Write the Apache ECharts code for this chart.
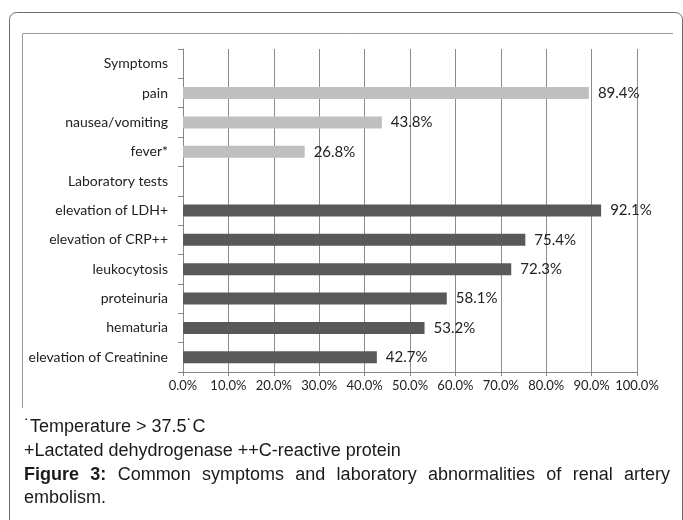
<!DOCTYPE html>
<html><head><meta charset="utf-8">
<script src="https://cdn.jsdelivr.net/npm/echarts@6/dist/echarts.min.js"></script>
<style>html,body{margin:0;padding:0;background:#fff}#c{width:683px;height:520px}</style>
</head><body><div id="c"></div>
<script>
// ---- data ----
const categories = ['Symptoms','pain','nausea/vomiting','fever*','Laboratory tests','elevation of LDH+','elevation of CRP++','leukocytosis','proteinuria','hematuria','elevation of Creatinine'];
const groups = ['header','symptom','symptom','symptom','header','lab','lab','lab','lab','lab','lab'];
const values = [null,89.4,43.8,26.8,null,92.1,75.4,72.3,58.1,53.2,42.7];
const xTickMin = 0, xTickMax = 100, xTickStep = 10;
const captionLine1 = '\u02D9Temperature > 37.5\u02D9C';
const captionLine2 = '+Lactated dehydrogenase ++C-reactive protein';
const captionBold = 'Figure 3:';
const captionLine3 = 'Common symptoms and laboratory abnormalities of renal artery';
const captionLine4 = 'embolism.';

// ---- styles ----
const groupColor = {symptom:'#bfbfbf', lab:'#595959'};
const capFont = '"Liberation Sans", Arial, sans-serif';
const capSize = 18;
const capColor = '#1a1a1a';

const chart = echarts.init(document.getElementById('c'), null, {renderer:'canvas'});

const seriesData = values.map((v,i)=> v==null ? null : ({value:v, itemStyle:{color:groupColor[groups[i]]}}));

// justified caption line 3
const ctx = document.createElement('canvas').getContext('2d');
function mw(t, weight){ ctx.font = (weight||'normal')+' '+capSize+'px '+capFont; return ctx.measureText(t).width; }
const capLeft = 24, capRight = 670;
const words3 = captionBold.split(' ').map(t=>({t, b:true})).concat(captionLine3.split(' ').map(t=>({t, b:false})));
const widths3 = words3.map(o=>mw(o.t, o.b?'bold':'normal'));
const total3 = widths3.reduce((a,b)=>a+b,0);
const gap3 = (capRight - capLeft - total3)/(words3.length-1);
const lineY = [427, 451, 475, 498];
const graphics = [
  {type:'rect', shape:{x:9.5, y:12.5, width:673, height:560, r:7}, style:{fill:'none', stroke:'#6e6e6e', lineWidth:1}, silent:true, z:-1},
  {type:'polyline', shape:{points:[[22.5,408],[22.5,33.5],[673,33.5]]}, style:{fill:'none', stroke:'#9a9a9a', lineWidth:1}, silent:true, z:-1}
];
function capText(t, x, y, bold){
  return {type:'text', x:x, y:y, style:{text:t, fontSize:capSize, fontFamily:capFont, fontWeight:bold?'bold':'normal', fill:capColor, align:'left', verticalAlign:'middle'}};
}
graphics.push(capText(captionLine1, capLeft, lineY[0], false));
graphics.push(capText(captionLine2, capLeft, lineY[1], false));
let cx = capLeft;
words3.forEach((o,i)=>{ graphics.push(capText(o.t, cx, lineY[2], o.b)); cx += widths3[i] + gap3; });
graphics.push(capText(captionLine4, capLeft, lineY[3], false));

chart.setOption({
  animation:false,
  backgroundColor:'#fff',
  grid:{left:183, right:46, top:49, bottom:148, containLabel:false},
  xAxis:{
    type:'value', min:xTickMin, max:xTickMax, interval:xTickStep,
    axisLine:{show:true, lineStyle:{color:'#868686', width:1}},
    axisTick:{show:true, length:4, lineStyle:{color:'#868686'}},
    splitLine:{show:true, lineStyle:{color:'#8c8c8c', width:1}},
    axisLabel:{formatter:v=>v.toFixed(1)+'%', fontFamily:'Lato', fontSize:13, color:'#222', margin:7}
  },
  yAxis:{
    type:'category', inverse:true, data:categories,
    axisLine:{show:true, lineStyle:{color:'#868686', width:1}},
    axisTick:{show:true, length:5, lineStyle:{color:'#868686'}},
    axisLabel:{fontFamily:'Lato', fontSize:14, color:'#222', margin:15}
  },
  series:[{
    type:'bar', data:seriesData, barWidth:12,
    label:{show:true, position:'right', distance:9, formatter:p=>p.value.toFixed(1)+'%', fontFamily:'Lato', fontSize:15, color:'#222'}
  }],
  graphic:graphics
});
</script></body></html>
